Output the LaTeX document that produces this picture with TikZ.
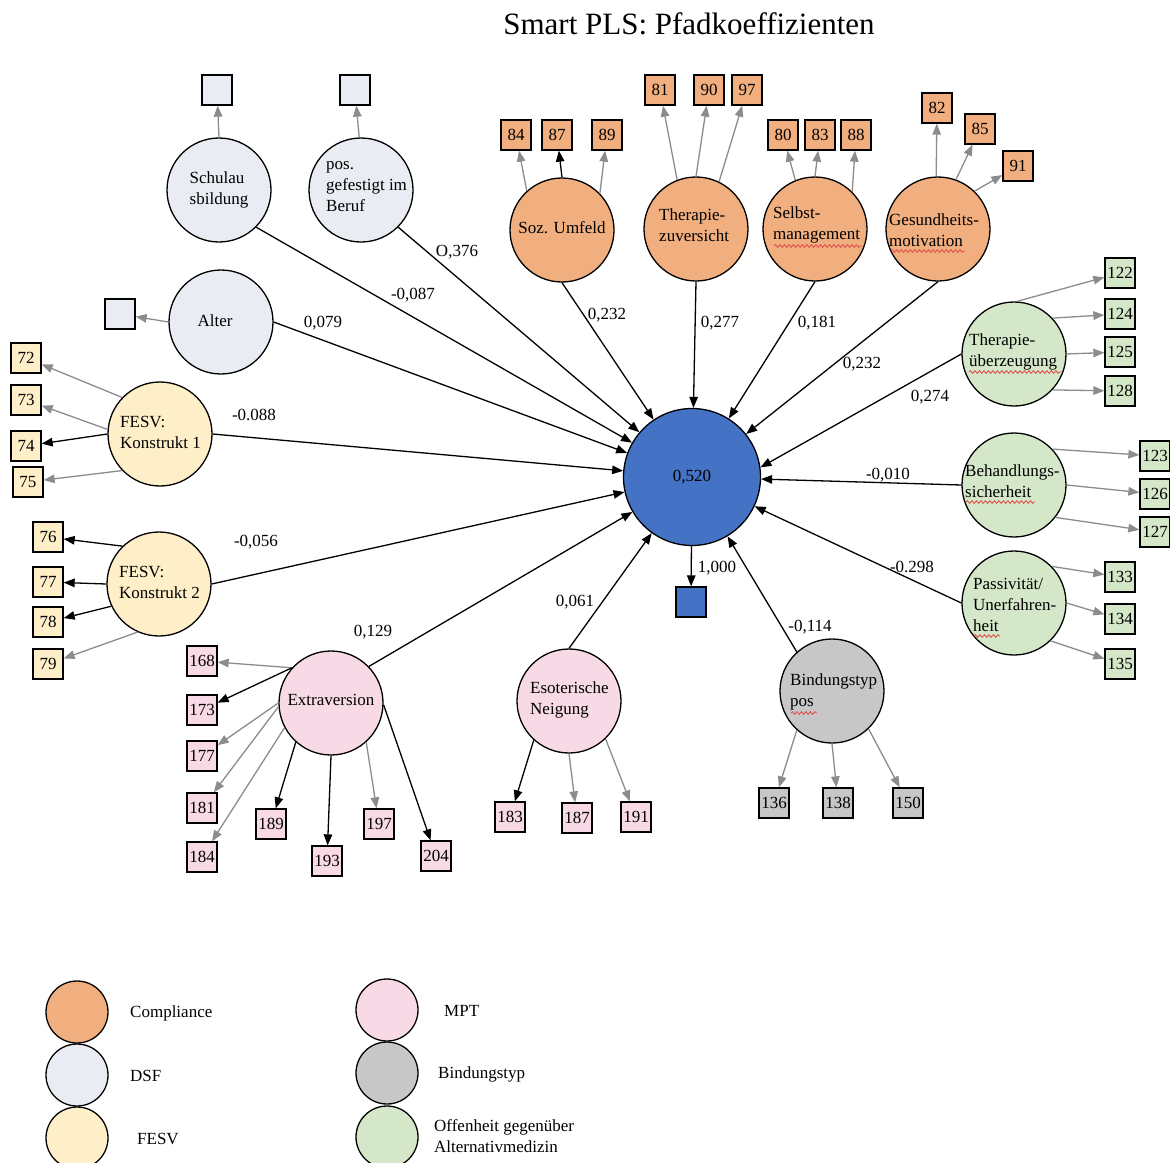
\documentclass[tikz,border=0pt]{standalone}
\usepackage{fontspec}
\setmainfont{Liberation Serif}
\usetikzlibrary{arrows.meta,decorations.pathmorphing}

\definecolor{cOrange}{HTML}{F1AE7E}
\definecolor{cDSF}{HTML}{E9EDF3}
\definecolor{cFESV}{HTML}{FEEFC9}
\definecolor{cMPT}{HTML}{F8DAE6}
\definecolor{cBind}{HTML}{C7C7C7}
\definecolor{cGreen}{HTML}{D4E7C8}
\definecolor{cBlue}{HTML}{4472C4}
\definecolor{cArrow}{HTML}{8C8C8C}
\definecolor{cSpell}{HTML}{E0524F}

\tikzset{
  lv/.style={circle, draw=black, line width=1.3pt, minimum size=104pt, inner sep=0pt},
  lvlab/.style={align=left, inner sep=0pt, font=\fontsize{17}{21}\selectfont},
  ind/.style={rectangle, draw=black, line width=1.3pt, minimum size=30pt, inner sep=0pt,
              font=\fontsize{17}{20}\selectfont},
  tip/.style={-{Triangle[length=11pt,width=8.5pt]}},
  pth/.style={tip, black, line width=1.3pt},
  ldg/.style={tip, cArrow, line width=1.3pt},
  ldb/.style={tip, black, line width=1.3pt},
  coef/.style={inner sep=0pt, font=\fontsize{17}{20}\selectfont},
  legtxt/.style={anchor=west, align=left, inner sep=0pt, font=\fontsize{17}{21}\selectfont},
  legdot/.style={circle, draw=black, line width=1.3pt, minimum size=62pt, inner sep=0pt},
  spell/.style={cSpell, line width=0.9pt, decorate,
                decoration={snake, amplitude=1.3pt, segment length=4.5pt}}
}

\begin{document}
\begin{tikzpicture}[x=1pt,y=-1pt]
\useasboundingbox[fill=white] (0,0) rectangle (1170,1162);

% title
\node[inner sep=0pt, font=\fontsize{31}{35}\selectfont] (title) at (689,24) {Smart PLS: Pfadkoeffizienten};

% dependent construct and its indicator
\node[lv, fill=cBlue, minimum size=137pt, font=\fontsize{17}{20}\selectfont] (dv) at (692,477) {0,520};
\node[ind, fill=cBlue] (dvi) at (691,602) {};

% latent variables
\node[lv, fill=cDSF] (schul) at (219,190) {};
\node[lv, fill=cDSF] (beruf) at (361,190) {};
\node[lv, fill=cDSF] (alter) at (221,322) {};
\node[lv, fill=cFESV] (fesv1) at (160,434) {};
\node[lv, fill=cFESV] (fesv2) at (159,584) {};
\node[lv, fill=cMPT] (extra) at (331,703) {};
\node[lv, fill=cMPT] (eso) at (569,701) {};
\node[lv, fill=cBind] (bind) at (832,691) {};
\node[lv, fill=cOrange] (soz) at (562,230) {};
\node[lv, fill=cOrange] (tzuv) at (696,229) {};
\node[lv, fill=cOrange] (selbst) at (815,229) {};
\node[lv, fill=cOrange] (ges) at (938,229) {};
\node[lv, fill=cGreen] (tueb) at (1014,354) {};
\node[lv, fill=cGreen] (behand) at (1014,485) {};
\node[lv, fill=cGreen] (passiv) at (1014,603) {};

% construct names
\node[lvlab] (tschul) at (219,190) {Schulau\\sbildung};
\node[lvlab, anchor=west] (tberuf) at (326,187) {pos.\\gefestigt im\\Beruf};
\node[lvlab] (talter) at (215,321) {Alter};
\node[lvlab, anchor=west] (tfesv1) at (120,432) {FESV:\\Konstrukt 1};
\node[lvlab, anchor=west] (tfesv2) at (119,582) {FESV:\\Konstrukt 2};
\node[lvlab] (textra) at (331,700) {Extraversion};
\node[lvlab, anchor=west] (teso) at (530,700) {Esoterische\\Neigung};
\node[lvlab, anchor=west] (tbind) at (790,692) {Bindungstyp\\pos};
\node[lvlab] (tsoz) at (562,228) {Soz. Umfeld};
\node[lvlab, anchor=west] (ttzuv) at (659,225) {Therapie-\\zuversicht};
\node[lvlab, anchor=west] (tselbst) at (773,225) {Selbst-\\management};
\node[lvlab, anchor=west] (tges) at (889,230) {Gesundheits-\\motivation};
\node[lvlab, anchor=west] (ttueb) at (969,352) {Therapie-\\überzeugung};
\node[lvlab, anchor=west] (tbehand) at (965,481) {Behandlungs-\\sicherheit};
\node[lvlab, anchor=west] (tpassiv) at (973,605) {Passivität/\\Unerfahren-\\heit};

% spell-check underlines
\draw[spell] (774,246) -- (862,246);
\draw[spell] (891,251) -- (965,251);
\draw[spell] (969,372) -- (1061,372);
\draw[spell] (966,502) -- (1035,502);
\draw[spell] (974,636) -- (1000,636);
\draw[spell] (791,713) -- (817,713);

% indicators
\node[ind, fill=cDSF] (ischul) at (217,90) {};
\node[ind, fill=cDSF] (iberuf) at (355,90) {};
\node[ind, fill=cDSF] (ialter) at (120,314) {};

\foreach \n/\x/\y in {72/26/358, 73/26/400, 74/26/446, 75/28/482,
                      76/48/537, 77/48/582, 78/48/622, 79/48/664}
  \node[ind, fill=cFESV] (b\n) at (\x,\y) {\n};
\foreach \n/\x/\y in {168/202/661, 173/202/710, 177/202/756, 181/202/808, 184/202/857,
                      189/271/824, 193/327/861, 197/379/824, 204/436/856,
                      183/510/817, 187/577/818, 191/636/817}
  \node[ind, fill=cMPT] (b\n) at (\x,\y) {\n};
\foreach \n/\x/\y in {136/774/803, 138/838/803, 150/908/803}
  \node[ind, fill=cBind] (b\n) at (\x,\y) {\n};
\foreach \n/\x/\y in {84/516/135, 87/557/135, 89/607/135,
                      81/660/90, 90/709/90, 97/747/90,
                      80/783/135, 83/820/135, 88/856/135,
                      82/937/108, 85/980/129, 91/1018/166}
  \node[ind, fill=cOrange] (b\n) at (\x,\y) {\n};
\foreach \n/\x/\y in {122/1120/273, 124/1120/314, 125/1120/352, 128/1120/391,
                      123/1155/456, 126/1155/494, 127/1155/532,
                      133/1120/577, 134/1120/619, 135/1120/664}
  \node[ind, fill=cGreen] (b\n) at (\x,\y) {\n};

% loadings (construct -> indicator)
\draw[ldg] (schul.90) -- (ischul);
\draw[ldg] (beruf.92) -- (iberuf);
\draw[ldg] (alter.180) -- (ialter);

\draw[ldg] (fesv1.136) -- (b72);
\draw[ldg] (fesv1.175) -- (b73);
\draw[ldb] (fesv1.180) -- (b74);
\draw[ldg] (fesv1.224) -- (b75);
\draw[ldb] (fesv2.134) -- (b76);
\draw[ldb] (fesv2.180) -- (b77);
\draw[ldb] (fesv2.205) -- (b78);
\draw[ldg] (fesv2.246) -- (b79);

\draw[ldg] (extra.138) -- (b168);
\draw[ldb] (extra.138) -- (b173);
\draw[ldg] (extra.180) -- (b177);
\draw[ldg] (extra.184) -- (b181);
\draw[ldg] (extra.208) -- (b184);
\draw[ldb] (extra.228) -- (b189);
\draw[ldb] (extra.270) -- (b193);
\draw[ldg] (extra.312) -- (b197);
\draw[ldb] (extra.358) -- (b204);

\draw[ldb] (eso.228) -- (b183);
\draw[ldg] (eso.270) -- (b187);
\draw[ldg] (eso.314) -- (b191);

\draw[ldg] (bind.228) -- (b136);
\draw[ldg] (bind.270) -- (b138);
\draw[ldg] (bind.314) -- (b150);

\draw[ldg] (soz.132) -- (b84);
\draw[ldb] (soz.90) -- (b87);
\draw[ldg] (soz.44) -- (b89);
\draw[ldg] (tzuv.111) -- (b81);
\draw[ldg] (tzuv.90) -- (b90);
\draw[ldg] (tzuv.64) -- (b97);
\draw[ldg] (selbst.112) -- (b80);
\draw[ldg] (selbst.90) -- (b83);
\draw[ldg] (selbst.45) -- (b88);
\draw[ldg] (ges.92) -- (b82);
\draw[ldg] (ges.70) -- (b85);
\draw[ldg] (ges.46) -- (b91);

\draw[ldg] (tueb.87) -- (b122);
\draw[ldg] (tueb.43) -- (b124);
\draw[ldg] (tueb.0) -- (b125);
\draw[ldg] (tueb.317) -- (b128);
\draw[ldg] (behand.43) -- (b123);
\draw[ldg] (behand.0) -- (b126);
\draw[ldg] (behand.322) -- (b127);
\draw[ldg] (passiv.44) -- (b133);
\draw[ldg] (passiv.0) -- (b134);
\draw[ldg] (passiv.314) -- (b135);

% structural paths
\draw[pth] (schul.315) -- (dv);
\draw[pth] (beruf.315) -- (dv);
\draw[pth] (alter.0) -- (dv);
\draw[pth] (fesv1.0) -- (dv);
\draw[pth] (fesv2.0) -- (dv);
\draw[pth] (extra.44) -- (dv);
\draw[pth] (eso.90) -- (dv);
\draw[pth] (bind.132) -- (dv);
\draw[pth] (soz.270) -- (dv);
\draw[pth] (tzuv.270) -- (dv);
\draw[pth] (selbst.270) -- (dv);
\draw[pth] (ges.270) -- (dv);
\draw[pth] (tueb.180) -- (dv.8);
\draw[pth] (behand.180) -- (dv);
\draw[pth] (passiv.180) -- (dv);
\draw[pth] (dv) -- (dvi);

% path coefficients
\node[coef] (cberuf) at (457,252) {O,376};
\node[coef] (cschul) at (413,295) {-0,087};
\node[coef] (calter) at (323,323) {0,079};
\node[coef] (cfesv1) at (254,415) {-0.088};
\node[coef] (cfesv2) at (256,542) {-0,056};
\node[coef] (cextra) at (373,632) {0,129};
\node[coef] (ceso) at (575,602) {0,061};
\node[coef] (csoz) at (607,315) {0,232};
\node[coef] (ctzuv) at (720,323) {0,277};
\node[coef] (cselbst) at (817,323) {0,181};
\node[coef] (cges) at (862,364) {0,232};
\node[coef] (ctueb) at (930,397) {0,274};
\node[coef] (cbehand) at (888,475) {-0,010};
\node[coef] (cpassiv) at (912,567) {-0.298};
\node[coef] (cbind) at (810,627) {-0,114};
\node[coef] (cdv) at (717,568) {1,000};

% legend
\node[legdot, fill=cOrange] (lg1) at (77,1012) {};
\node[legdot, fill=cDSF] (lg2) at (77,1075) {};
\node[legdot, fill=cFESV] (lg3) at (77,1138) {};
\node[legdot, fill=cMPT] (lg4) at (387,1010) {};
\node[legdot, fill=cBind] (lg5) at (387,1073) {};
\node[legdot, fill=cGreen] (lg6) at (387,1137) {};
\node[legtxt] (lt1) at (130,1013) {Compliance};
\node[legtxt] (lt2) at (130,1076) {DSF};
\node[legtxt] (lt3) at (137,1139) {FESV};
\node[legtxt] (lt4) at (444,1011) {MPT};
\node[legtxt] (lt5) at (438,1074) {Bindungstyp};
\node[legtxt] (lt6) at (434,1136) {Offenheit gegenüber\\Alternativmedizin};
\end{tikzpicture}
\end{document}
